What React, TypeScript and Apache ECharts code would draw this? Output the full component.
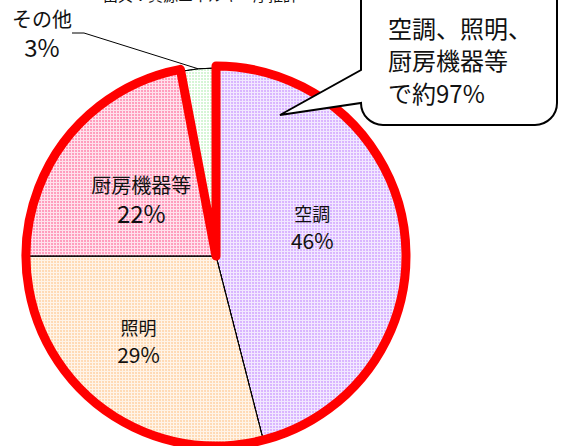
import React, { useEffect, useRef } from 'react';
import * as echarts from 'echarts';

const categories = ['空調', '照明', '厨房機器等', 'その他'];
const shares = [46, 29, 22, 3];
const fillColors = ['#f2e8ff', '#fff4e8', '#ffe2ec', '#ffffff'];
const dotColors = ['#cc99ff', '#ffcc99', '#ff77a4', '#bff0bf'];
const highlightCount = 3;
const sourceNote = '出典：資源エネルギー庁推計';

const FONT = '"Noto Sans CJK JP", "Noto Sans", sans-serif';

export default function App() {
  const ref = useRef<HTMLDivElement>(null);

  useEffect(() => {
    document.body.style.margin = '0';
    const chart = echarts.init(ref.current!, null, { renderer: 'svg' });

    const bubbleD =
      'M361 -14 L361 70 L280 115 L361 103 A22 22 0 0 0 383 125 L535 125 A22 22 0 0 0 557 103 L557 -14 Z';
    echarts.graphic.registerShape('bubble', echarts.graphic.extendPath(bubbleD, {}));

    const highlightedTotal = shares.slice(0, highlightCount).reduce((a, b) => a + b, 0);
    const restTotal = shares.slice(highlightCount).reduce((a, b) => a + b, 0);
    const calloutText =
      categories.slice(0, 2).join('、') + '、\n' + categories[2] + '\nで約' + highlightedTotal + '%';

    const big = (i: number) => i >= 2;

    const mainData = categories.map((name, i) => ({
      name,
      value: shares[i],
      itemStyle: {
        color: fillColors[i],
        decal: {
          symbol: 'circle',
          symbolSize: 0.8,
          color: dotColors[i],
          dashArrayX: [2, 1],
          dashArrayY: [2, 1],
        },
      },
      label: {
        position: i < highlightCount ? 'inside' : 'outside',
        formatter: '{n|{b}}\n{p|{c}%}',
        rich: {
          n: { fontSize: big(i) ? 20 : 18, lineHeight: big(i) ? 28 : 27, fontFamily: FONT, color: '#111' },
          p: { fontSize: big(i) ? 24 : 21, lineHeight: big(i) ? 28 : 27, fontFamily: FONT, color: '#111' },
        },
      },
      labelLine: {
        show: i >= highlightCount,
        length: 20,
        length2: 12,
        lineStyle: { color: '#000', width: 1 },
      },
    }));

    chart.setOption({
      animation: false,
      backgroundColor: '#ffffff',
      series: [
        {
          type: 'pie',
          center: [216, 256],
          radius: 188,
          startAngle: 90,
          clockwise: true,
          avoidLabelOverlap: false,
          z: 2,
          itemStyle: { borderColor: '#000', borderWidth: 1 },
          label: { show: true, fontFamily: FONT, color: '#111' },
          emphasis: { disabled: true },
          data: mainData,
          labelLayout: (params: any) => {
            const i = params.dataIndex;
            if (i === 0) return { dy: -17 };
            if (i === 1) return { dx: -18, dy: 8 };
            if (i === 2) return { dy: 4 };
            return { x: 42, y: 32, align: 'center', verticalAlign: 'middle' };
          },
        },
        {
          type: 'pie',
          center: [216, 256],
          radius: 190,
          startAngle: 90,
          clockwise: true,
          silent: true,
          z: 3,
          label: { show: false },
          labelLine: { show: false },
          emphasis: { disabled: true },
          data: [
            {
              name: 'highlight',
              value: highlightedTotal,
              itemStyle: {
                color: 'rgba(0,0,0,0)',
                borderColor: '#ff0000',
                borderWidth: 9,
                borderJoin: 'round',
              },
            },
            {
              name: 'rest',
              value: restTotal,
              itemStyle: { color: 'rgba(0,0,0,0)', borderWidth: 0 },
            },
          ],
        },
      ],
      graphic: [
        {
          type: 'text',
          x: 103,
          y: 2,
          z: 100,
          style: {
            text: sourceNote,
            fontSize: 15,
            fontFamily: FONT,
            fill: '#111',
            verticalAlign: 'bottom',
          },
        },
        {
          type: 'bubble',
          x: 0,
          y: 0,
          z: 100,
          style: { fill: '#ffffff', stroke: '#000000', lineWidth: 2 },
        },
        {
          type: 'text',
          x: 388,
          y: 11,
          z: 101,
          style: {
            text: calloutText,
            fontSize: 24,
            lineHeight: 32.5,
            fontFamily: FONT,
            fill: '#111',
          },
        },
      ],
    });

    return () => chart.dispose();
  }, []);

  return (
    <div
      ref={ref}
      style={{ position: 'absolute', left: 0, top: 0, width: 561, height: 446 }}
    />
  );
}
